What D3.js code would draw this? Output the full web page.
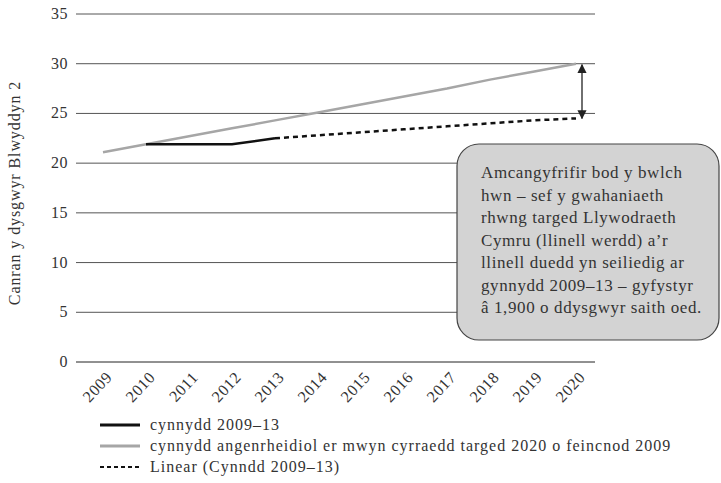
<!DOCTYPE html>
<html>
<head>
<meta charset="utf-8">
<script src="https://cdn.jsdelivr.net/npm/d3@7"></script>
<style>
	body { margin: 0; background: #fff; }
	svg text { font-family: "Liberation Serif", "DejaVu Serif", serif; fill: #333; }
</style>
</head>
<body>
<div id="chart"></div>
<script>
// data
const years     = ["2009", "2010", "2011", "2012", "2013", "2014", "2015", "2016", "2017", "2018", "2019", "2020"];
const progress  = [null, 21.9, 21.9, 21.9, 22.5, null, null, null, null, null, null, null];
const required  = [21.1, 21.9, 22.7, 23.5, 24.3, 25.1, 25.9, 26.7, 27.5, 28.4, 29.2, 30.0];
const trend     = [null, null, null, null, 22.5, 22.8, 23.1, 23.4, 23.7, 24.0, 24.3, 24.5];
const yTicks    = [0, 5, 10, 15, 20, 25, 30, 35];
const legendTxt = ["cynnydd 2009–13", "cynnydd angenrheidiol er mwyn cyrraedd targed 2020 o feincnod 2009", "Linear (Cynndd 2009–13)"];
const yTitle    = "Canran y dysgwyr Blwyddyn 2";
const noteLines = ["Amcangyfrifir bod y bwlch", "hwn – sef y gwahaniaeth", "rhwng targed Llywodraeth", "Cymru (llinell werdd) a’r", "llinell duedd yn seiliedig ar", "gynnydd 2009–13 – gyfystyr", "â 1,900 o ddysgwyr saith oed."];

let canvasWidth  = 721;
let canvasHeight = 483;
let gridLeft = 76, gridRight = 595;

let x = d3.scalePoint().domain(years).range([103, 576]);
let y = d3.scaleLinear().domain([0, 35]).range([362, 14]);

let svg = d3.select("#chart").append("svg")
	.attr("width", canvasWidth)
	.attr("height", canvasHeight);

svg.append("defs").append("marker")
	.attr("id", "arrow")
	.attr("viewBox", "0 0 10 10")
	.attr("refX", 9).attr("refY", 5)
	.attr("markerWidth", 7).attr("markerHeight", 7)
	.attr("orient", "auto-start-reverse")
	.append("path")
		.attr("d", "M0,0 L10,5 L0,10 Z")
		.attr("fill", "#222");

// gridlines + y labels
let yAxis = svg.append("g").attr("id", "axis--y");
yAxis.selectAll("line")
	.data(yTicks)
	.enter().append("line")
		.attr("x1", gridLeft).attr("x2", gridRight)
		.attr("y1", (o) => (y(o))).attr("y2", (o) => (y(o)))
		.attr("stroke", (o) => (o === 0 ? "#222" : "#555"))
		.attr("stroke-width", 1);
yAxis.selectAll("text")
	.data(yTicks)
	.enter().append("text")
		.attr("x", 68)
		.attr("y", (o) => (y(o) + 5))
		.attr("text-anchor", "end")
		.attr("font-size", 16)
		.attr("letter-spacing", 0.5)
		.text((o) => (o));

svg.append("text")
	.attr("transform", "translate(20,193) rotate(-90)")
	.attr("text-anchor", "middle")
	.attr("font-size", 16)
	.attr("letter-spacing", 0.9)
	.text(yTitle);

// x labels
svg.append("g").attr("id", "axis--x")
	.selectAll("text")
	.data(years)
	.enter().append("text")
		.attr("transform", (o) => ("translate(" + (x(o) + 10) + ",378) rotate(-47)"))
		.attr("text-anchor", "end")
		.attr("font-size", 16)
		.attr("letter-spacing", 0.6)
		.text((o) => (o));

// series
let line = d3.line()
	.defined((o) => (o[1] !== null))
	.x((o) => (x(o[0])))
	.y((o) => (y(o[1])));

svg.append("path")
	.datum(years.map((o, i) => [o, required[i]]))
	.attr("d", line)
	.attr("fill", "none")
	.attr("stroke", "#a6a6a6")
	.attr("stroke-width", 2.5);

svg.append("path")
	.datum(years.map((o, i) => [o, trend[i]]))
	.attr("d", line)
	.attr("fill", "none")
	.attr("stroke", "#111")
	.attr("stroke-width", 2.5)
	.attr("stroke-dasharray", "5,4");

svg.append("path")
	.datum(years.map((o, i) => [o, progress[i]]))
	.attr("d", line)
	.attr("fill", "none")
	.attr("stroke", "#111")
	.attr("stroke-width", 2.5);

// gap arrow
svg.append("line")
	.attr("x1", x("2020") + 6).attr("x2", x("2020") + 6)
	.attr("y1", y(required[11]) + 1).attr("y2", y(trend[11]))
	.attr("stroke", "#222")
	.attr("stroke-width", 1.3)
	.attr("marker-start", "url(#arrow)")
	.attr("marker-end", "url(#arrow)");

// callout box
svg.append("rect")
	.attr("x", 457).attr("y", 144)
	.attr("width", 262).attr("height", 196)
	.attr("rx", 22).attr("ry", 22)
	.attr("fill", "#d3d3d3")
	.attr("stroke", "#444")
	.attr("stroke-width", 1.2);

svg.append("g").selectAll("text")
	.data(noteLines)
	.enter().append("text")
		.attr("x", 481)
		.attr("y", (o, i) => (178 + i * 22.5))
		.attr("font-size", 17)
		.attr("letter-spacing", 0.6)
		.text((o) => (o));

// legend
let legend = svg.append("g").attr("id", "legend")
	.selectAll("g")
	.data(legendTxt)
	.enter().append("g")
		.attr("transform", (o, i) => ("translate(100," + (425 + i * 21) + ")"));

legend.append("line")
	.attr("x1", 0).attr("x2", 40)
	.attr("stroke", (o, i) => (i === 1 ? "#a6a6a6" : "#111"))
	.attr("stroke-width", (o, i) => (i === 2 ? 2 : 3))
	.attr("stroke-dasharray", (o, i) => (i === 2 ? "4,3" : null));

legend.append("text")
	.attr("x", 50).attr("y", 5)
	.attr("font-size", 16)
	.attr("letter-spacing", 1)
	.text((o) => (o));
</script>
</body>
</html>
